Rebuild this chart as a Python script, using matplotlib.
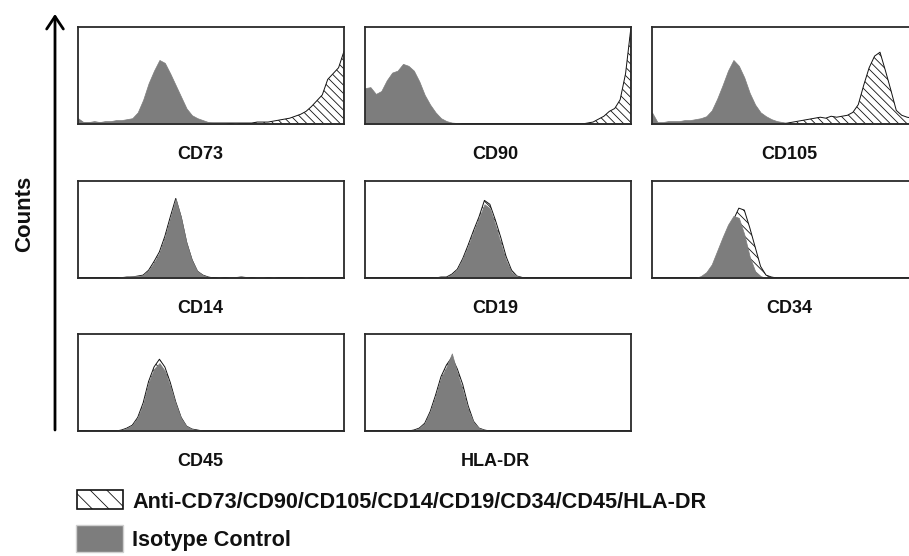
import numpy as np
import matplotlib
matplotlib.use('Agg')
import matplotlib.pyplot as plt
from matplotlib.patches import Rectangle, FancyArrowPatch

plt.rcParams['font.family'] = ['Liberation Sans', 'DejaVu Sans']
plt.rcParams['hatch.linewidth'] = 0.6

# marker names, panel order left->right, top->bottom
markers = ['CD73', 'CD90', 'CD105', 'CD14', 'CD19', 'CD34', 'CD45', 'HLA-DR']

# histogram heights (fraction of panel height), 50 channels over the log-fluorescence axis
iso_cd73 = [0.06, 0.02, 0.02, 0.03, 0.02, 0.03, 0.03, 0.04, 0.04, 0.05,
            0.06, 0.12, 0.25, 0.42, 0.55, 0.66, 0.63, 0.52, 0.40, 0.28,
            0.16, 0.09, 0.06, 0.04, 0.02, 0.01, 0.01, 0.01, 0.0, 0.01,
            0.0, 0.0, 0.0, 0.01] + [0.0] * 16
anti_cd73 = [0.04] + [0.01] * 32 + [0.02, 0.02, 0.02, 0.03, 0.04, 0.05, 0.06,
             0.08, 0.10, 0.13, 0.18, 0.24, 0.30, 0.46, 0.52, 0.58, 0.75]

iso_cd90 = [0.37, 0.38, 0.31, 0.34, 0.45, 0.53, 0.55, 0.62, 0.60, 0.55,
            0.44, 0.30, 0.20, 0.12, 0.06, 0.03, 0.015, 0.01] + [0.0] * 32
anti_cd90 = [0.0] * 41 + [0.01, 0.02, 0.05, 0.08, 0.13, 0.16, 0.25, 0.52, 1.0]

iso_cd105 = [0.12, 0.02, 0.02, 0.03, 0.03, 0.03, 0.04, 0.04, 0.05, 0.06,
             0.08, 0.14, 0.26, 0.40, 0.55, 0.66, 0.60, 0.48, 0.32, 0.20,
             0.12, 0.08, 0.05, 0.03, 0.02, 0.01] + [0.0] * 24
anti_cd105 = [0.0] * 25 + [0.01, 0.02, 0.03, 0.04, 0.05,
              0.06, 0.07, 0.06, 0.08, 0.07, 0.08, 0.09, 0.12, 0.20, 0.40,
              0.58, 0.70, 0.74, 0.55, 0.35, 0.14, 0.09, 0.07, 0.06, 0.05]

iso_cd14 = [0.0] * 8 + [0.01, 0.02,
            0.02, 0.02, 0.03, 0.08, 0.16, 0.26, 0.42, 0.62, 0.82, 0.62,
            0.36, 0.18, 0.07, 0.03, 0.01, 0.0, 0.01, 0.0, 0.01, 0.01,
            0.02, 0.01, 0.0, 0.01, 0.01, 0.0, 0.01, 0.0, 0.0, 0.0,
            0.0, 0.0, 0.01] + [0.0] * 7
anti_cd14 = [0.0] * 10 + [0.01, 0.02, 0.03, 0.08, 0.17, 0.27, 0.43, 0.63, 0.82, 0.63,
             0.37, 0.19, 0.07, 0.03, 0.01] + [0.0] * 25

iso_cd19 = [0.0] * 13 + [0.005, 0.01, 0.01, 0.04, 0.09, 0.20, 0.33, 0.48, 0.62, 0.76,
            0.72, 0.55, 0.36, 0.18, 0.06, 0.02, 0.005] + [0.0] * 20
anti_cd19 = [0.0] * 13 + [0.0, 0.01, 0.01, 0.04, 0.09, 0.20, 0.34, 0.49, 0.63, 0.80,
             0.76, 0.60, 0.42, 0.22, 0.08, 0.02, 0.005] + [0.0] * 20

iso_cd34 = [0.0] * 9 + [0.02, 0.06, 0.14, 0.28, 0.42, 0.55, 0.64, 0.62, 0.45, 0.22,
            0.07, 0.02] + [0.0] * 29
anti_cd34 = [0.0] * 11 + [0.08, 0.18, 0.32, 0.48, 0.60, 0.72, 0.70, 0.52, 0.32, 0.12,
             0.03, 0.01] + [0.0] * 27

iso_cd45 = [0.0, 0.0, 0.005, 0.005, 0.005, 0.005, 0.005, 0.005,
            0.01, 0.03, 0.06, 0.14, 0.28, 0.50, 0.64, 0.70, 0.62, 0.46, 0.28, 0.13,
            0.05, 0.02, 0.01] + [0.005] * 11 + [0.0] * 16
anti_cd45 = [0.0] * 8 + [0.01, 0.03, 0.06, 0.14, 0.29, 0.51, 0.66, 0.74, 0.66, 0.50,
             0.30, 0.14, 0.05, 0.02, 0.01] + [0.0] * 27

iso_hladr = [0.0] * 9 + [0.01, 0.03, 0.08, 0.20, 0.36, 0.55, 0.66, 0.80, 0.60, 0.42,
             0.22, 0.09, 0.03, 0.01] + [0.0] * 27
anti_hladr = [0.0] * 9 + [0.01, 0.03, 0.08, 0.20, 0.37, 0.56, 0.68, 0.76, 0.64, 0.48,
              0.26, 0.10, 0.03, 0.01] + [0.0] * 27

iso_all = [iso_cd73, iso_cd90, iso_cd105, iso_cd14, iso_cd19, iso_cd34, iso_cd45, iso_hladr]
anti_all = [anti_cd73, anti_cd90, anti_cd105, anti_cd14, anti_cd19, anti_cd34, anti_cd45, anti_hladr]

legend_anti = 'Anti-CD73/CD90/CD105/CD14/CD19/CD34/CD45/HLA-DR'
legend_iso = 'Isotype Control'

W, H = 909, 556
fig = plt.figure(figsize=(W / 100, H / 100), dpi=100)

col_left = [78, 365, 652]
row_top = [27, 181, 334]
pw, ph = 266, 97
label_dx = [0.46, 0.49, 0.515]
grey = '#7d7d7d'

chan = np.linspace(0, 1, 50)
for i, name in enumerate(markers):
    r, c = divmod(i, 3)
    ax = fig.add_axes([col_left[c] / W, 1 - (row_top[r] + ph) / H, pw / W, ph / H])
    ax.fill_between(chan, 0, anti_all[i], facecolor='white', edgecolor='#111111',
                    hatch='\\\\\\\\', linewidth=0.7, zorder=1)
    ax.fill_between(chan, 0, iso_all[i], facecolor=grey, edgecolor=grey,
                    linewidth=0.5, zorder=2)
    ax.set_xlim(0, 1)
    ax.set_ylim(0, 1)
    ax.set_xticks([])
    ax.set_yticks([])
    for s in ax.spines.values():
        s.set_linewidth(1.3)
        s.set_color('#2a2a2a')
        s.set_zorder(3)
    ax.text(label_dx[c], -0.31, name, transform=ax.transAxes, ha='center', va='center',
            fontsize=13, fontweight='bold', color='#111111')

# Counts axis arrow
fig.add_artist(FancyArrowPatch((55 / W, 1 - 430 / H), (55 / W, 1 - 14 / H),
                               transform=fig.transFigure, shrinkA=0, shrinkB=0,
                               arrowstyle='->,head_length=0.45,head_width=0.3',
                               mutation_scale=20, color='black', lw=2))
fig.text(25 / W, 1 - 214 / H, 'Counts', rotation=90, ha='center', va='center',
         fontsize=16, fontweight='bold', color='#111111')

# legend
fig.add_artist(Rectangle((77 / W, 1 - 509 / H), 46 / W, 19 / H, transform=fig.transFigure,
                         facecolor='white', edgecolor='#111111', hatch='\\\\', lw=1.2))
fig.add_artist(Rectangle((76 / W, 1 - 552 / H), 47 / W, 27 / H, transform=fig.transFigure,
                         facecolor=grey, edgecolor='#cfcfcf', lw=1.0))
fig.text(132 / W, 1 - 508 / H, legend_anti, ha='left', va='baseline',
         fontsize=15.6, fontweight='bold', color='#111111')
fig.text(132 / W, 1 - 546 / H, legend_iso, ha='left', va='baseline',
         fontsize=15.6, fontweight='bold', color='#111111')

fig.savefig('out.png', dpi=100)
